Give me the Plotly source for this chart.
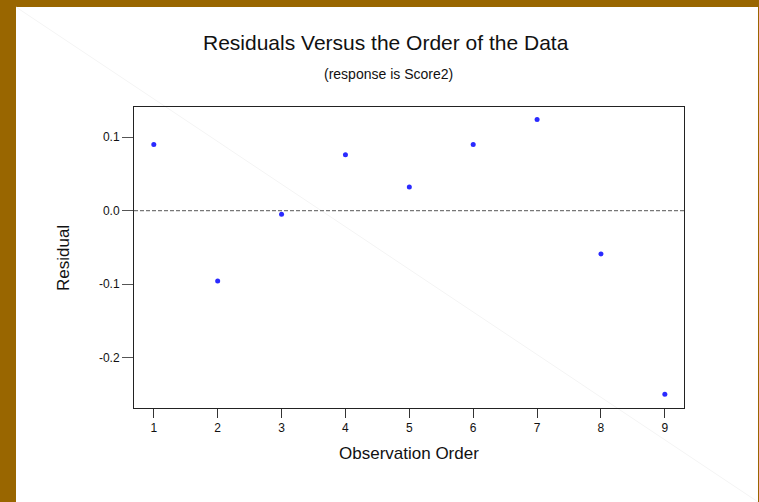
import plotly.graph_objects as go

# Data
observation_order = [1, 2, 3, 4, 5, 6, 7, 8, 9]
residuals = [0.090, -0.096, -0.005, 0.076, 0.032, 0.090, 0.124, -0.059, -0.250]
x_tick_vals = [1, 2, 3, 4, 5, 6, 7, 8, 9]
y_tick_vals = [0.1, 0.0, -0.1, -0.2]
y_tick_text = ["0.1", "0.0", "-0.1", "-0.2"]

W, H = 759, 502
L, R, T, B = 134, 75, 107, 94
pw, ph = W - L - R, H - T - B


def px_x(p):
    return (p - L) / pw


def px_y(p):
    return (H - B - p) / ph


FONT = "Liberation Sans, Arial, sans-serif"


def label(text, x, y, size, angle=0):
    return dict(text=text, xref="paper", yref="paper", x=px_x(x), y=px_y(y),
                xanchor="center", yanchor="middle", textangle=angle,
                showarrow=False, font=dict(size=size, family=FONT, color="#111"))


fig = go.Figure()
fig.add_trace(go.Scatter(
    x=observation_order, y=residuals, mode="markers",
    marker=dict(color="#2a2aff", size=5, line=dict(width=0)),
    hoverinfo="x+y", showlegend=False,
))

shapes = [
    dict(type="rect", xref="paper", yref="paper",
         x0=px_x(16), x1=px_x(758), y0=px_y(7), y1=px_y(H + 5),
         fillcolor="white", line=dict(width=0), layer="below"),
    dict(type="line", xref="paper", yref="paper",
         x0=px_x(16), y0=px_y(7), x1=px_x(758), y1=px_y(502),
         line=dict(color="#f4f4f4", width=1), layer="below"),
    dict(type="line", xref="paper", yref="y", x0=0, x1=1, y0=0, y1=0,
         line=dict(color="#777777", width=1.3, dash="4px,2px")),
]

fig.update_layout(
    width=W, height=H,
    margin=dict(l=L, r=R, t=T, b=B),
    paper_bgcolor="#996600",
    plot_bgcolor="rgba(0,0,0,0)",
    shapes=shapes,
    font=dict(family=FONT, color="#111111"),
    annotations=[
        label("Residuals Versus the Order of the Data", 386, 43, 21),
        label("(response is Score2)", 388, 74, 14),
        label("Observation Order", 409, 454, 17),
        label("Residual", 63, 258, 17, -90),
    ],
    xaxis=dict(
        range=[0.69, 9.30], tickvals=x_tick_vals, ticks="outside", ticklen=9,
        tickcolor="#333", tickwidth=1, showgrid=False, zeroline=False,
        showline=True, linecolor="#222", linewidth=1, mirror=True,
        tickfont=dict(size=12, family=FONT, color="#111"),
    ),
    yaxis=dict(
        range=[-0.2688, 0.141], tickvals=y_tick_vals, ticktext=y_tick_text,
        ticks="outside", ticklen=11, tickcolor="#555", tickwidth=1,
        showgrid=False, zeroline=False,
        showline=True, linecolor="#222", linewidth=1, mirror=True,
        tickfont=dict(size=12, family=FONT, color="#111"),
    ),
)

fig.write_html("out.html")
